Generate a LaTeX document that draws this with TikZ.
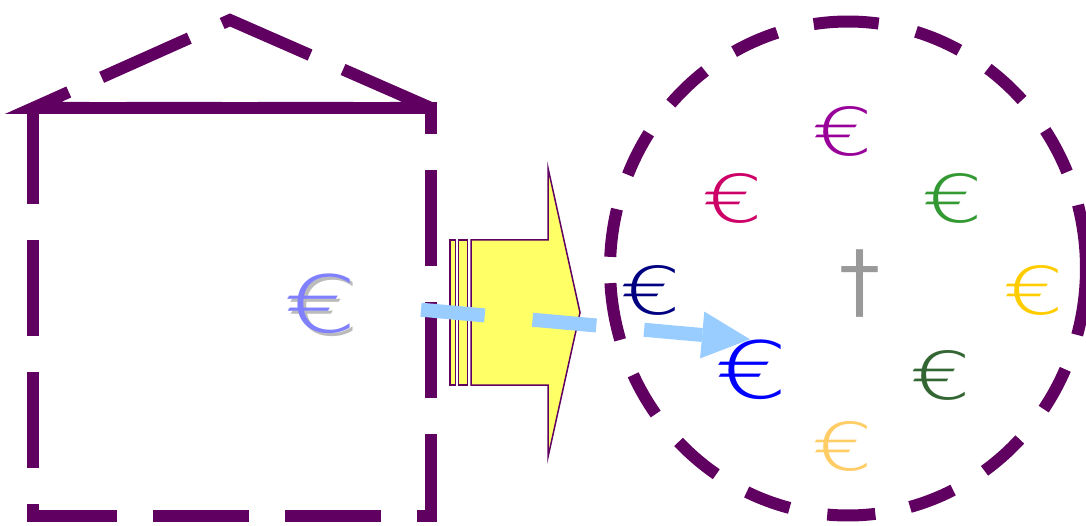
\documentclass[tikz,border=0pt]{standalone}
\usepackage{fontspec}
\newfontfamily\dejavu{DejaVu Sans}
\newfontfamily\dvl{DejaVu Sans ExtraLight}[FakeStretch=1.45]
\usetikzlibrary{arrows.meta}
\definecolor{hpurple}{HTML}{600060}
\definecolor{ayellow}{HTML}{FFFF66}
\definecolor{flowblue}{HTML}{99CCFF}
\definecolor{cpurple}{HTML}{990099}
\definecolor{ccrimson}{HTML}{CC0066}
\definecolor{cgreen}{HTML}{339933}
\definecolor{cnavy}{HTML}{000080}
\definecolor{cgold}{HTML}{FFCC00}
\definecolor{cblue}{HTML}{0000FF}
\definecolor{cdkgreen}{HTML}{336633}
\definecolor{corange}{HTML}{FFCC66}
\definecolor{cgray}{HTML}{999999}
\definecolor{clav}{HTML}{8080FF}
\definecolor{cshadow}{HTML}{BBBBBB}
\begin{document}
\begin{tikzpicture}[x=1pt,y=1pt,
  wall/.style={draw=hpurple, line width=12pt, line join=miter, dash pattern=on 96pt off 36pt},
  solidwall/.style={draw=hpurple, line width=12pt},
  circ/.style={draw=hpurple, line width=12pt},
  yarrow/.style={fill=ayellow, draw=hpurple, line width=1.5pt, line join=miter},
  flow/.style={draw=flowblue, line width=14pt, dash pattern=on 64pt off 48pt,
    -{Triangle[length=48pt,width=47pt,line width=0pt]}},
  eur/.style={inner sep=0pt, font=\dvl\fontsize{66}{66}\selectfont},
  eurbig/.style={inner sep=0pt, font=\dvl\fontsize{79}{79}\selectfont},
  dagg/.style={inner sep=0pt, font=\dejavu\fontsize{82}{82}\selectfont}]
\useasboundingbox (0,0) rectangle (1086,525);
% house
\draw[wall] (33,417) -- (33,9) -- (431,9) -- (431,417) -- cycle;
\draw[wall] (431,417) -- (230,505) -- (33,417) -- (431,417);
\draw[solidwall] (33,417) -- (431,417);
% yellow arrow
\draw[yarrow] (450,285) rectangle (455.7,140);
\draw[yarrow] (458.3,285) rectangle (467.3,140);
\draw[yarrow] (471,285) -- (548,285) -- (548,357) -- (580,212.5) -- (548,68) -- (548,140) -- (471,140) -- cycle;
% dashed ellipse
\coordinate (cc) at (848,256.5);
\foreach \a/\b in {98.3/82.6, 73.4/62.1, 54/43, 34/23, 14.9/-15.6, -24.1/-34.7,
  -43.8/-55, -63.8/-74.9, -83.4/-95, -104.2/-115.2, -123.6/-135.4, -143.9/-154.5,
  -163.2/-176.6, -182.7/-193.9, -202.3/-213.2, -221.9/-233.1, -241.4/-252.7}
  \draw[circ] ([shift={(\a:238 and 247)}]cc) arc[start angle=\a, end angle=\b, x radius=238, y radius=247];
% euros
\node[eurbig, text=cshadow] (lvs) at (323.5,218.5) {€};
\node[eurbig, text=clav] (lv) at (321,221) {€};
\node[eur, text=cpurple] (e1) at (842.5,394) {€};
\node[eur, text=ccrimson] (e2) at (733,326.5) {€};
\node[eur, text=cgreen] (e3) at (952.5,326.5) {€};
\node[eur, text=cnavy] (e4) at (650.5,235) {€};
\node[eur, text=cgold] (e5) at (1034,235) {€};
\node[eurbig, text=cblue] (e6) at (752,155) {€};
\node[eur, text=cdkgreen] (e7) at (940.5,150) {€};
\node[eur, text=corange] (e8) at (842.5,79) {€};
\node[dagg, text=cgray] (dg) at (860,241.5) {†};
% flow arrow
\coordinate (fa) at (421,215.3);
\coordinate (fb) at (750,185.7);
\draw[flow] (fa) -- (fb);
\end{tikzpicture}
\end{document}
